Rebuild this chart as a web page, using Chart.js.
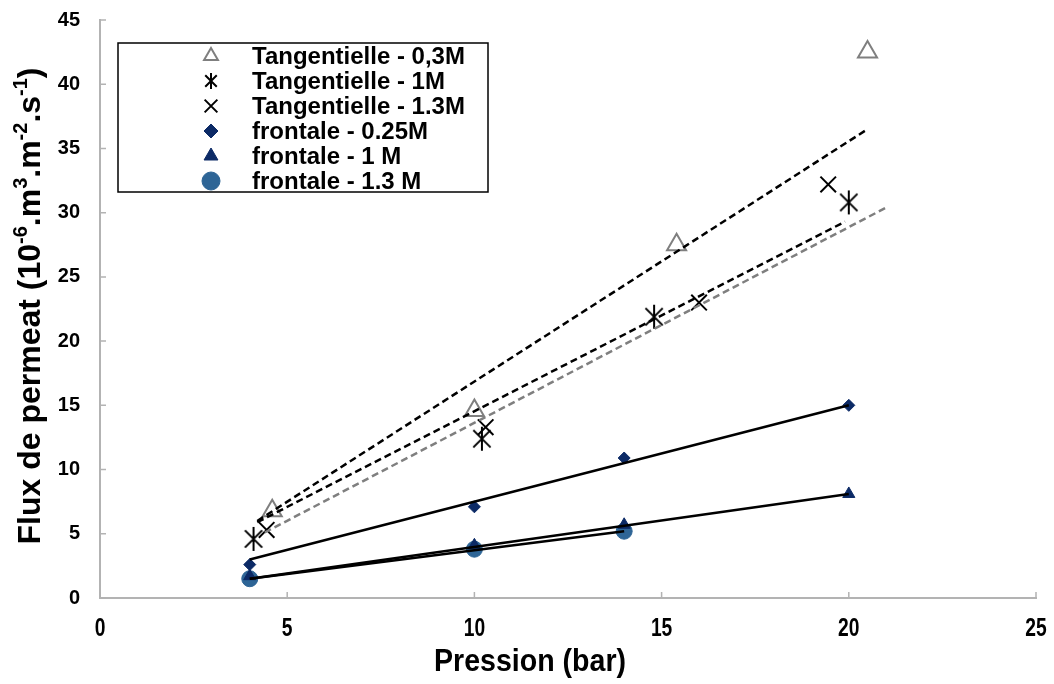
<!DOCTYPE html>
<html><head><meta charset="utf-8">
<title>Flux de permeat</title>
<script src="https://cdn.jsdelivr.net/npm/chart.js@4"></script>
<style>html,body{margin:0;background:#fff}</style>
</head><body>
<canvas id="chart" width="1054" height="684"></canvas>
<script>
// values
const tan03X = [4.6, 10.0, 15.4, 20.5];
const tan03Y = [6.8, 14.6, 27.5, 42.5];
const tan1X = [4.1, 10.2, 14.8, 20.0];
const tan1Y = [4.6, 12.4, 21.9, 30.8];
const tan13X = [4.45, 10.3, 16.0, 19.45];
const tan13Y = [5.3, 13.3, 23.0, 32.2];
const fro025X = [4, 10, 14, 20];
const fro025Y = [2.6, 7.1, 10.9, 15.0];
const fro1X = [4, 10, 14, 20];
const fro1Y = [1.7, 4.1, 5.7, 8.1];
const fro13X = [4, 10, 14];
const fro13Y = [1.5, 3.8, 5.2];

// trend lines (start / end)
const trend03X = [4.2, 20.5], trend03Y = [6.0, 36.5];
const trend1X = [4.2, 19.9], trend1Y = [5.9, 29.3];
const trend13X = [4.4, 21.0], trend13Y = [5.1, 30.4];
const trendF025X = [4, 20], trendF025Y = [3.0, 15.0];
const trendF1X = [4, 20], trendF1Y = [1.5, 8.1];
const trendF13X = [4, 14], trendF13Y = [1.5, 5.2];

const seriesLabels = ['Tangentielle - 0,3M', 'Tangentielle - 1M', 'Tangentielle - 1.3M',
  'frontale - 0.25M', 'frontale - 1 M', 'frontale - 1.3 M'];
const xTicks = [0, 5, 10, 15, 20, 25];
const yTicks = [0, 5, 10, 15, 20, 25, 30, 35, 40, 45];

const pts = (xs, ys) => xs.map((x, i) => ({ x, y: ys[i] }));

function asterisk(r) {
  const c = document.createElement('canvas');
  const s = Math.ceil(2 * r + 4);
  c.width = s; c.height = s;
  const g = c.getContext('2d');
  const m = s / 2;
  g.strokeStyle = '#000';
  g.lineWidth = 2;
  g.beginPath();
  g.moveTo(m, m - r); g.lineTo(m, m + r);
  const d = r * 0.72;
  g.moveTo(m - d, m - d); g.lineTo(m + d, m + d);
  g.moveTo(m + d, m - d); g.lineTo(m - d, m + d);
  g.stroke();
  return c;
}

function trend(xs, ys, color, dash) {
  return {
    type: 'line', data: pts(xs, ys), trend: true,
    borderColor: color, borderWidth: 2.5, borderDash: dash,
    pointRadius: 0, fill: false
  };
}

const datasets = [
  trend(trend03X, trend03Y, '#000', [7, 4]),
  trend(trend1X, trend1Y, '#000', [7, 4]),
  trend(trend13X, trend13Y, '#7f7f7f', [7, 4]),
  trend(trendF025X, trendF025Y, '#000', []),
  trend(trendF1X, trendF1Y, '#000', []),
  trend(trendF13X, trendF13Y, '#000', []),
  { label: seriesLabels[0], data: pts(tan03X, tan03Y), pointStyle: 'triangle', pointRadius: 11,
    borderColor: '#7f7f7f', backgroundColor: 'rgba(255,255,255,0)', borderWidth: 2, legR: 8 },
  { label: seriesLabels[1], data: pts(tan1X, tan1Y), pointStyle: asterisk(12), pointRadius: 12,
    borderColor: '#000', backgroundColor: '#000', legStyle: asterisk(8) },
  { label: seriesLabels[2], data: pts(tan13X, tan13Y), pointStyle: 'crossRot', pointRadius: 11,
    borderColor: '#000', backgroundColor: '#000', borderWidth: 2, legR: 9 },
  { label: seriesLabels[3], data: pts(fro025X, fro025Y), pointStyle: 'rectRot', pointRadius: 6,
    borderColor: '#0c2a66', backgroundColor: '#0c2a66', borderWidth: 1, legR: 7 },
  { label: seriesLabels[4], data: pts(fro1X, fro1Y), pointStyle: 'triangle', pointRadius: 7,
    borderColor: '#0c2a66', backgroundColor: '#0c2a66', borderWidth: 1, legR: 8 },
  { label: seriesLabels[5], data: pts(fro13X, fro13Y), pointStyle: 'circle', pointRadius: 8,
    borderColor: '#2e6596', backgroundColor: '#2e6596', borderWidth: 1, legR: 9 }
];

const FONT = '"Liberation Sans", Arial, sans-serif';

// narrow text: Arial Narrow is not installed, so squeeze Liberation Sans
function narrowText(ctx, text, cx, cy, size, sx) {
  ctx.save();
  ctx.font = 'bold ' + size + 'px ' + FONT;
  ctx.textAlign = 'center';
  ctx.textBaseline = 'middle';
  ctx.translate(cx, cy);
  ctx.scale(sx, 1);
  ctx.fillText(text, 0, 0);
  ctx.restore();
}

const annotations = {
  id: 'annotations',
  afterDraw(chart) {
    const ctx = chart.ctx;
    const { left, right, top, bottom } = chart.chartArea;
    const xs = chart.scales.x, ys = chart.scales.y;
    ctx.save();
    // inner tick marks
    ctx.strokeStyle = '#b3b3b3';
    ctx.lineWidth = 1.5;
    ctx.beginPath();
    xTicks.forEach(v => { const p = xs.getPixelForValue(v); ctx.moveTo(p, bottom); ctx.lineTo(p, bottom - 6); });
    yTicks.forEach(v => { const p = ys.getPixelForValue(v); ctx.moveTo(left, p); ctx.lineTo(left + 6, p); });
    ctx.stroke();

    // x tick labels and title
    ctx.fillStyle = '#000';
    xTicks.forEach(v => narrowText(ctx, String(v), xs.getPixelForValue(v), bottom + 31, 26, 0.74));
    ctx.font = 'bold 32px ' + FONT;
    const tw = ctx.measureText('Pression (bar)').width;
    narrowText(ctx, 'Pression (bar)', 530, bottom + 64, 32, 192 / tw);

    // legend box
    const bx = 118, by = 43, bw = 370, bh = 149;
    ctx.fillStyle = '#fff';
    ctx.fillRect(bx, by, bw, bh);
    ctx.strokeStyle = '#000';
    ctx.lineWidth = 1.5;
    ctx.strokeRect(bx, by, bw, bh);
    ctx.font = 'bold 24px ' + FONT;
    ctx.textBaseline = 'middle';
    ctx.textAlign = 'left';
    chart.data.datasets.filter(d => !d.trend).forEach((d, i) => {
      const cy = by + 13 + i * 25;
      ctx.fillStyle = '#000';
      ctx.fillText(d.label, 252, cy + 1);
      if (d.legStyle) {
        ctx.drawImage(d.legStyle, 211 - d.legStyle.width / 2, cy - d.legStyle.height / 2);
      } else {
        ctx.fillStyle = d.backgroundColor;
        ctx.strokeStyle = d.borderColor;
        ctx.lineWidth = d.borderWidth;
        Chart.helpers.drawPoint(ctx, { pointStyle: d.pointStyle, radius: d.legR, borderWidth: d.borderWidth, rotation: 0 }, 211, cy);
      }
    });

    // y axis title with superscripts
    ctx.translate(29, 306);
    ctx.rotate(-Math.PI / 2);
    const parts = [['Flux de permeat (10', 0], ['-6', 1], ['.m', 0], ['3', 1], ['.m', 0], ['-2', 1], ['.s', 0], ['-1', 1], [')', 0]];
    const big = 'bold 32px ' + FONT;
    const small = 'bold 20px ' + FONT;
    let total = 0;
    parts.forEach(([t, s]) => { ctx.font = s ? small : big; total += ctx.measureText(t).width; });
    let x = -total / 2;
    ctx.fillStyle = '#000';
    ctx.textBaseline = 'alphabetic';
    parts.forEach(([t, s]) => {
      ctx.font = s ? small : big;
      ctx.fillText(t, x, s ? -2 : 11);
      x += ctx.measureText(t).width;
    });
    ctx.restore();
  }
};

new Chart(document.getElementById('chart'), {
  type: 'scatter',
  data: { datasets },
  options: {
    responsive: false,
    animation: false,
    layout: { padding: { top: 20, right: 18, left: 0, bottom: 0 } },
    plugins: { legend: { display: false }, tooltip: { enabled: false } },
    scales: {
      x: {
        type: 'linear', min: 0, max: 25,
        afterBuildTicks: s => { s.ticks = xTicks.map(v => ({ value: v })); },
        afterFit: s => { s.height = 86; s.paddingLeft = 0; s.paddingRight = 0; },
        grid: { display: false, drawTicks: false },
        border: { color: '#b3b3b3', width: 2 },
        ticks: { display: false }
      },
      y: {
        type: 'linear', min: 0, max: 45,
        afterBuildTicks: s => { s.ticks = yTicks.map(v => ({ value: v })); },
        afterFit: s => { s.width = 100; s.paddingTop = 0; s.paddingBottom = 0; },
        grid: { display: false, drawTicks: false },
        border: { color: '#b3b3b3', width: 2 },
        ticks: { color: '#000', padding: 20,
          font: { family: FONT, size: 20, weight: 'bold' } }
      }
    }
  },
  plugins: [annotations]
});
</script>
</body></html>
